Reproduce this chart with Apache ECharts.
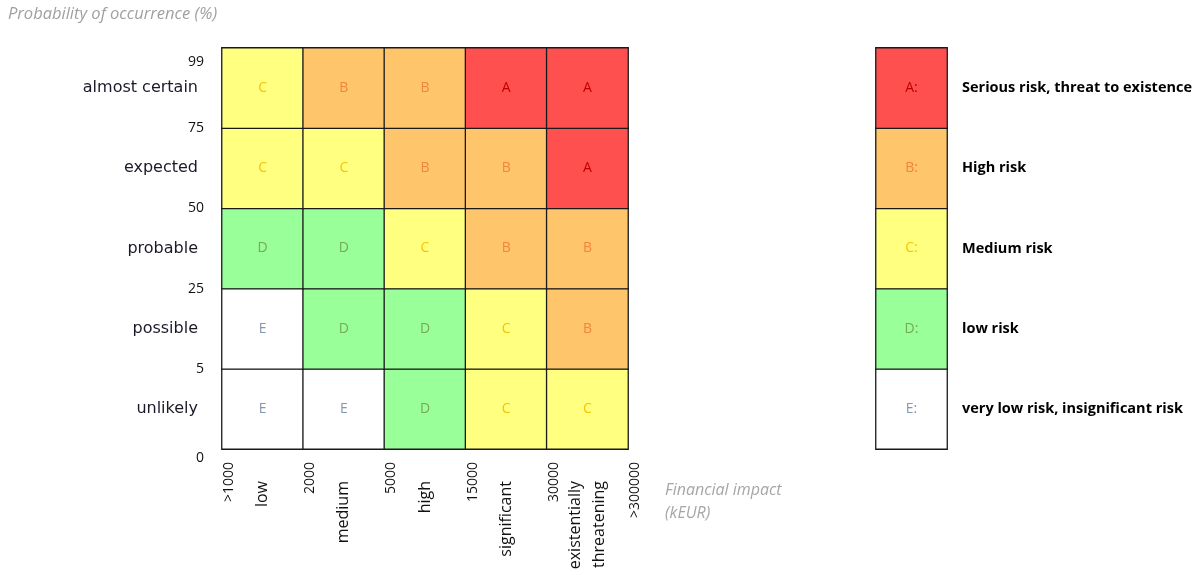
<!DOCTYPE html>
<html>
<head>
<meta charset="utf-8">
<script src="https://cdn.jsdelivr.net/npm/echarts@6/dist/echarts.min.js"></script>
<style>html,body{margin:0;padding:0;background:#fff;}#c{width:1195px;height:575px;}</style>
</head>
<body>
<div id="c"></div>
<script>
// ---- data ----
const xCategories = ['low', 'medium', 'high', 'significant', 'existentially\nthreatening'];
const xBounds = ['>1000', '2000', '5000', '15000', '30000', '>300000'];
const yCategories = ['unlikely', 'possible', 'probable', 'expected', 'almost certain'];
const yBounds = ['0', '5', '25', '50', '75', '99'];
const riskClasses = ['A', 'B', 'C', 'D', 'E'];
// risk class per cell, rows from bottom (unlikely) to top (almost certain)
const riskUnlikely = ['E', 'E', 'D', 'C', 'C'];
const riskPossible = ['E', 'D', 'D', 'C', 'B'];
const riskProbable = ['D', 'D', 'C', 'B', 'B'];
const riskExpected = ['C', 'C', 'B', 'B', 'A'];
const riskAlmostCertain = ['C', 'B', 'B', 'A', 'A'];
const riskRows = [riskUnlikely, riskPossible, riskProbable, riskExpected, riskAlmostCertain];
// legend, bottom to top
const legendLevels = ['E', 'D', 'C', 'B', 'A'];
const legendTexts = ['very low risk, insignificant risk', 'low risk', 'Medium risk', 'High risk', 'Serious risk, threat to existence'];

// ---- styles ----
const fill = { A: '#ff5050', B: '#fec56b', C: '#ffff80', D: '#99ff99', E: '#ffffff' };
const ink = { A: '#c00000', B: '#f4843c', C: '#ffc000', D: '#77a958', E: '#8497b0' };
const border = '#1a1a1a';

const cellData = [];
riskRows.forEach((row, yi) => row.forEach((r, xi) => {
  cellData.push({ value: [xi, yi, riskClasses.indexOf(r)], itemStyle: { color: fill[r] }, label: { color: ink[r] } });
}));
const legendData = legendLevels.map((r, yi) => ({
  value: [0, yi, riskClasses.indexOf(r)], itemStyle: { color: fill[r] }, label: { color: ink[r] }
}));

const chart = echarts.init(document.getElementById('c'));
chart.setOption({
  animation: false,
  backgroundColor: '#fff',
  title: [
    { text: 'Probability of occurrence (%)', left: 3, top: 1,
      textStyle: { fontFamily: 'Open Sans', fontStyle: 'italic', fontWeight: 'normal', fontSize: 16.5, color: '#a0a0a0' } },
    { text: 'Financial impact\n(kEUR)', left: 660, top: 474,
      textStyle: { fontFamily: 'Open Sans', fontStyle: 'italic', fontWeight: 'normal', fontSize: 16, color: '#a6a6a6', lineHeight: 23 } }
  ],
  grid: [
    { left: 222, right: 567, top: 48, bottom: 126 },
    { left: 876, right: 245, top: 48, bottom: 126 }
  ],
  xAxis: [
    { type: 'category', gridIndex: 0, data: xCategories, position: 'bottom',
      axisLine: { show: false }, axisTick: { show: false }, splitLine: { show: false },
      axisLabel: { rotate: 90, margin: 32, fontFamily: 'Open Sans', fontSize: 16, color: '#111', lineHeight: 24, interval: 0 } },
    { type: 'value', gridIndex: 0, min: 0, max: 5, interval: 1, position: 'bottom',
      axisLine: { show: false }, axisTick: { show: false }, splitLine: { show: false },
      axisLabel: { rotate: 90, margin: 13, fontFamily: 'Open Sans', fontSize: 14, color: '#111', verticalAlign: 'top',
        formatter: v => xBounds[Math.round(v)] } },
    { type: 'category', gridIndex: 1, data: ['legend'], show: false }
  ],
  yAxis: [
    { type: 'category', gridIndex: 0, data: yCategories,
      axisLine: { show: false }, axisTick: { show: false }, splitLine: { show: false },
      axisLabel: { margin: 24, fontFamily: 'DejaVu Sans', fontSize: 16, color: '#1a1a2a' } },
    { type: 'value', gridIndex: 0, min: 0, max: 5, interval: 1, position: 'left',
      axisLine: { show: false }, axisTick: { show: false }, splitLine: { show: false },
      axisLabel: { margin: 18, fontFamily: 'Open Sans', fontSize: 14, color: '#111',
        formatter: v => {
          const i = Math.round(v);
          if (i === 5) return '{top|' + yBounds[i] + '}';
          if (i === 0) return '{bot|' + yBounds[i] + '}';
          return yBounds[i];
        },
        rich: {
          top: { fontFamily: 'Open Sans', fontSize: 14, color: '#111', padding: [28, 0, 0, 0] },
          bot: { fontFamily: 'Open Sans', fontSize: 14, color: '#111', padding: [18, 0, 0, 0] }
        } } },
    { type: 'category', gridIndex: 1, data: legendTexts, position: 'right',
      axisLine: { show: false }, axisTick: { show: false }, splitLine: { show: false },
      axisLabel: { margin: 15, fontFamily: 'Open Sans', fontWeight: 'bold', fontSize: 14.5, color: '#000' } }
  ],
  series: [
    { type: 'heatmap', xAxisIndex: 0, yAxisIndex: 0, data: cellData,
      itemStyle: { borderColor: border, borderWidth: 1.3 },
      label: { show: true, formatter: p => riskClasses[p.value[2]], fontFamily: 'Open Sans', fontSize: 14 },
      emphasis: { disabled: true } },
    { type: 'heatmap', xAxisIndex: 2, yAxisIndex: 2, data: legendData,
      itemStyle: { borderColor: border, borderWidth: 1.3 },
      label: { show: true, formatter: p => riskClasses[p.value[2]] + ':', fontFamily: 'Open Sans', fontSize: 14 },
      emphasis: { disabled: true } }
  ]
});
</script>
</body>
</html>
